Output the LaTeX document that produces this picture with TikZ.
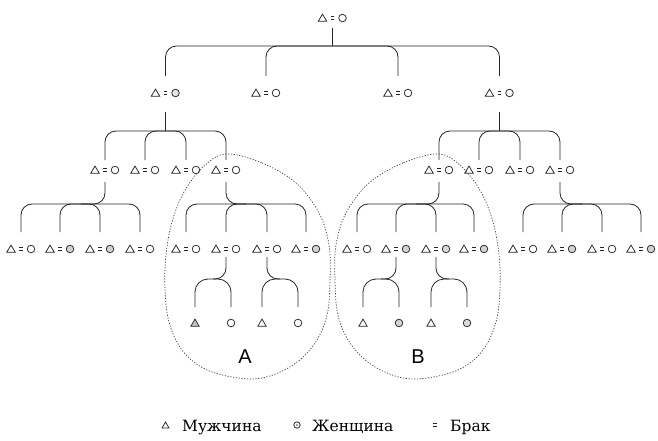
\documentclass[tikz,border=0pt]{standalone}
\usepackage{fontspec}
\newfontfamily\legendfont{DejaVu Serif}
\newfontfamily\tagfont{Liberation Sans}
\usetikzlibrary{calc}

\tikzset{
  kin/.style={line width=0.8pt, draw=black!85, rounded corners=11pt},
  arch/.style={kin, rounded corners=13pt},
  sym/.style={line width=0.75pt, draw=black!85},
  coupbox/.style={inner sep=0pt, minimum width=28pt, minimum height=9pt},
  solobox/.style={inner sep=0pt, minimum size=8pt},
  outline/.style={line width=0.7pt, draw=black!75, dash pattern=on 1.2pt off 1.6pt},
  tag/.style={font=\tagfont\fontsize{20}{24}\selectfont, inner sep=0pt},
  legend/.style={font=\legendfont\fontsize{15.5}{18}\selectfont, inner sep=0pt, anchor=base west},
}

% married couple: name, position, triangle fill, circle fill
\newcommand\drawcouple[4]{%
  \node[coupbox] (#1) at (#2) {};
  \filldraw[sym, fill=#3] ($(#1)+(-14.3,3.3)$) -- ($(#1)+(-5.7,3.3)$) -- ($(#1)+(-10,-3.9)$) -- cycle;
  \draw[sym] ($(#1)+(-1.9,-1.4)$) -- ($(#1)+(1.9,-1.4)$)
             ($(#1)+(-1.9,1.4)$) -- ($(#1)+(1.9,1.4)$);
  \filldraw[sym, fill=#4] ($(#1)+(10,0)$) circle[radius=3.8pt];
}
% single man / woman: name, position, fill
\newcommand\drawman[3]{%
  \node[solobox] (#1) at (#2) {};
  \filldraw[sym, fill=#3] ($(#1)+(-4.2,3.3)$) -- ($(#1)+(4.2,3.3)$) -- ($(#1)+(0,-3.9)$) -- cycle;
}
\newcommand\drawwoman[3]{%
  \node[solobox] (#1) at (#2) {};
  \filldraw[sym, fill=#3] (#1) circle[radius=3.8pt];
}

\begin{document}
\begin{tikzpicture}[x=1pt, y=-1pt]
\fill[white] (0,0) rectangle (658,441);
\useasboundingbox (0,0) rectangle (658,441);

% ---- generations ----
\drawcouple{top}{332.5,18}{white}{white}

\drawcouple{b1}{165.5,93}{white}{gray!20}
\drawcouple{b2}{266,93}{white}{white}
\drawcouple{b3}{398,93}{white}{white}
\drawcouple{b4}{499.5,93}{white}{white}

\drawcouple{c1}{105,170}{white}{white}
\drawcouple{c2}{145,170}{white}{white}
\drawcouple{c3}{186,170}{white}{white}
\drawcouple{c4}{226,170}{white}{white}
\drawcouple{c5}{439,170}{white}{white}
\drawcouple{c6}{479,170}{white}{white}
\drawcouple{c7}{520,170}{white}{white}
\drawcouple{c8}{560,170}{white}{white}

\drawcouple{d1}{21,249}{white}{white}
\drawcouple{d2}{60,249}{white}{gray!35}
\drawcouple{d3}{100,249}{white}{gray!35}
\drawcouple{d4}{140,249}{white}{white}
\drawcouple{e1}{186,249}{white}{white}
\drawcouple{e2}{226,249}{white}{white}
\drawcouple{e3}{267,249}{white}{white}
\drawcouple{e4}{306,249}{white}{gray!35}
\drawcouple{f1}{357,249}{white}{white}
\drawcouple{f2}{396,249}{white}{gray!35}
\drawcouple{f3}{436,249}{white}{gray!30}
\drawcouple{f4}{474,249}{white}{gray!35}
\drawcouple{g1}{523,249}{white}{white}
\drawcouple{g2}{562,249}{white}{gray!35}
\drawcouple{g3}{602,249}{white}{white}
\drawcouple{g4}{641,249}{white}{gray!35}

\drawman{m1}{195,323}{gray!45}
\drawwoman{w1}{231,323}{white}
\drawman{m2}{262,323}{white}
\drawwoman{w2}{298,323}{white}
\drawman{m3}{363,323}{white}
\drawwoman{w3}{399,323}{gray!35}
\drawman{m4}{431,323}{white}
\drawwoman{w4}{467,323}{gray!30}

% ---- descent lines ----
\coordinate (j1) at (332.5,46);
\draw[kin] ($(top)+(0,10)$) -- (j1);
\foreach \c in {b1,b2,b3,b4} \draw[kin] (j1) -| ($(\c)+(0,-17)$);

\coordinate (j2) at (165.5,131);
\draw[kin] ($(b1)+(0,19)$) -- (j2);
\foreach \c in {c1,c2,c3,c4} \draw[kin] (j2) -| ($(\c)+(0,-10)$);

\coordinate (j3) at (499.5,131);
\draw[kin] ($(b4)+(0,19)$) -- (j3);
\foreach \c in {c5,c6,c7,c8} \draw[kin] (j3) -| ($(\c)+(0,-10)$);

\coordinate (j4) at (80.5,204);
\draw[kin] ($(c1)+(0,12)$) |- (j4);
\foreach \c in {d1,d2,d3,d4} \draw[kin] (j4) -| ($(\c)+(0,-17)$);

\coordinate (j5) at (246,204);
\draw[kin] ($(c4)+(0,12)$) |- (j5);
\foreach \c in {e1,e2,e3,e4} \draw[kin] (j5) -| ($(\c)+(0,-17)$);

\coordinate (j6) at (415.5,204);
\draw[kin] ($(c5)+(0,12)$) |- (j6);
\foreach \c in {f1,f2,f3,f4} \draw[kin] (j6) -| ($(\c)+(0,-17)$);

\coordinate (j7) at (582,204);
\draw[kin] ($(c8)+(0,12)$) |- (j7);
\foreach \c in {g1,g2,g3,g4} \draw[kin] (j7) -| ($(\c)+(0,-17)$);

\coordinate (j8) at (213,279);
\draw[kin] ($(e2)+(0,8)$) |- (j8);
\foreach \c in {m1,w1} \draw[arch] (j8) -| ($(\c)+(0,-16)$);

\coordinate (j9) at (280,279);
\draw[kin] ($(e3)+(0,8)$) |- (j9);
\foreach \c in {m2,w2} \draw[arch] (j9) -| ($(\c)+(0,-16)$);

\coordinate (j10) at (381,279);
\draw[kin] ($(f2)+(0,8)$) |- (j10);
\foreach \c in {m3,w3} \draw[arch] (j10) -| ($(\c)+(0,-16)$);

\coordinate (j11) at (449,279);
\draw[kin] ($(f3)+(0,8)$) |- (j11);
\foreach \c in {m4,w4} \draw[arch] (j11) -| ($(\c)+(0,-16)$);

% ---- lineage outlines ----
\draw[outline] plot[smooth cycle, tension=0.6] coordinates {
  (226,154) (262,163) (296,183) (319,213) (329,245) (330,280) (327,315)
  (315,343) (293,365) (262,378) (232,377) (203,368) (182,350) (169,322)
  (165,288) (166,255) (172,222) (184,192) (203,167)};
\draw[outline] plot[smooth cycle, tension=0.6] coordinates {
  (439,154) (403,163) (369,183) (346,213) (336,245) (335,280) (338,315)
  (350,343) (372,365) (403,378) (433,377) (462,368) (483,350) (496,322)
  (500,288) (499,255) (493,222) (481,192) (462,167)};

\node[tag] (tagA) at (245,357) {A};
\node[tag] (tagB) at (418,357) {B};

% ---- legend ----
\filldraw[sym, fill=white] (162,428) -- (169,428) -- (165.5,422) -- cycle;
\node[legend] (lman) at (182,431) {Мужчина};
\draw[sym] (297,425) circle[radius=3.2pt];
\fill[black!70] (297,425) circle[radius=0.9pt];
\node[legend] (lwoman) at (312,431) {Женщина};
\draw[line width=1.1pt, draw=black!85] (432.5,423.5) -- (437,423.5) (432.5,426.5) -- (437,426.5);
\node[legend] (lmarriage) at (450,431) {Брак};
\end{tikzpicture}
\end{document}
